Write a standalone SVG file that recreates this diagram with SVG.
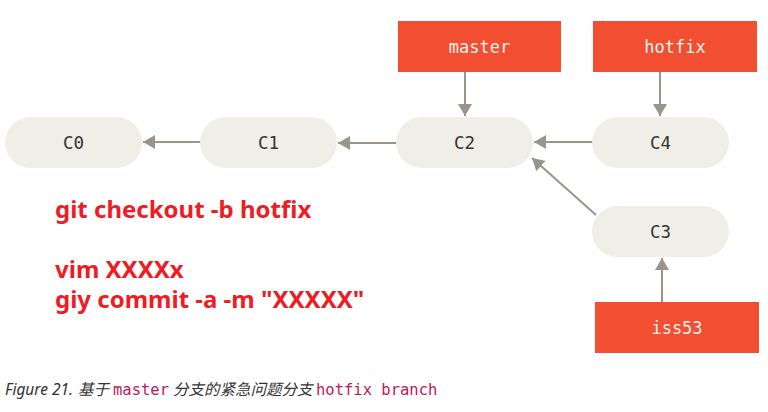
<svg xmlns="http://www.w3.org/2000/svg" width="768" height="412" viewBox="0 0 768 412">
<style>
.pill{fill:#F0EFE7;}
.box{fill:#F14E32;}
.lbl{font-family:"DejaVu Sans Mono","Liberation Mono",monospace;font-size:17.5px;text-anchor:middle;fill:#333333;}
.blbl{font-family:"DejaVu Sans Mono","Liberation Mono",monospace;font-size:17px;text-anchor:middle;fill:#F5F1EA;}
.edge{stroke:#9A948D;stroke-width:2;fill:none;marker-end:url(#ah);}
.cmd{font-family:"Noto Sans","Open Sans",sans-serif;font-weight:bold;font-size:24px;fill:#EE1C25;}
.cap{font-family:"Noto Sans","Noto Sans CJK SC",sans-serif;font-style:italic;font-size:15.5px;fill:#333333;}
.capm{font-family:"DejaVu Sans Mono","Liberation Mono",monospace;font-size:15.5px;fill:#C0185B;}
</style>
<defs>
<marker id="ah" viewBox="0 0 12 14" refX="12" refY="7" markerWidth="12" markerHeight="14" markerUnits="userSpaceOnUse" orient="auto">
<path d="M0,0 L12,7 L0,14 Z" fill="#9A948D"/>
</marker>
</defs>
<rect width="768" height="412" fill="#FFFFFF"/>
<g id="connectors">
<line class="edge" x1="200" y1="142" x2="143" y2="142"/>
<line class="edge" x1="396" y1="143" x2="338" y2="143"/>
<line class="edge" x1="592" y1="142" x2="534" y2="142"/>
<line class="edge" x1="596" y1="215" x2="532" y2="158"/>
<line class="edge" x1="465" y1="72" x2="465" y2="116"/>
<line class="edge" x1="660" y1="72" x2="660" y2="116"/>
<line class="edge" x1="662" y1="302" x2="662" y2="258"/>
</g>
<g id="C0"><rect class="pill" x="5" y="117" width="137" height="51" rx="25.5"/><text class="lbl" x="73.5" y="148.5">C0</text></g>
<g id="C1"><rect class="pill" x="200" y="117" width="137" height="51" rx="25.5"/><text class="lbl" x="268.5" y="148.5">C1</text></g>
<g id="C2"><rect class="pill" x="396" y="117" width="137" height="51" rx="25.5"/><text class="lbl" x="464.5" y="148.5">C2</text></g>
<g id="C4"><rect class="pill" x="592" y="117" width="137" height="51" rx="25.5"/><text class="lbl" x="660.5" y="148.5">C4</text></g>
<g id="C3"><rect class="pill" x="592" y="206" width="137" height="51" rx="25.5"/><text class="lbl" x="660.5" y="237.5">C3</text></g>
<g id="master"><rect class="box" x="398" y="21" width="163" height="51"/><text class="blbl" x="479.5" y="52.5">master</text></g>
<g id="hotfix"><rect class="box" x="593" y="21" width="164" height="51"/><text class="blbl" x="675" y="52.5">hotfix</text></g>
<g id="iss53"><rect class="box" x="595" y="302" width="164" height="51"/><text class="blbl" x="677" y="333.5">iss53</text></g>
<g id="commands">
<text class="cmd" x="55" y="218">git checkout -b hotfix</text>
<text class="cmd" x="55" y="278">vim XXXXx</text>
<text class="cmd" x="55" y="308">giy commit -a -m "XXXXX"</text>
</g>
<g id="caption">
<text class="cap" x="5" y="395">Figure 21.</text>
<text class="cap" x="78" y="395">基于</text>
<text class="capm" x="113" y="395">master</text>
<text class="cap" x="173" y="395">分支的紧急问题分支</text>
<text class="capm" x="316" y="395">hotfix branch</text>
</g>
</svg>
